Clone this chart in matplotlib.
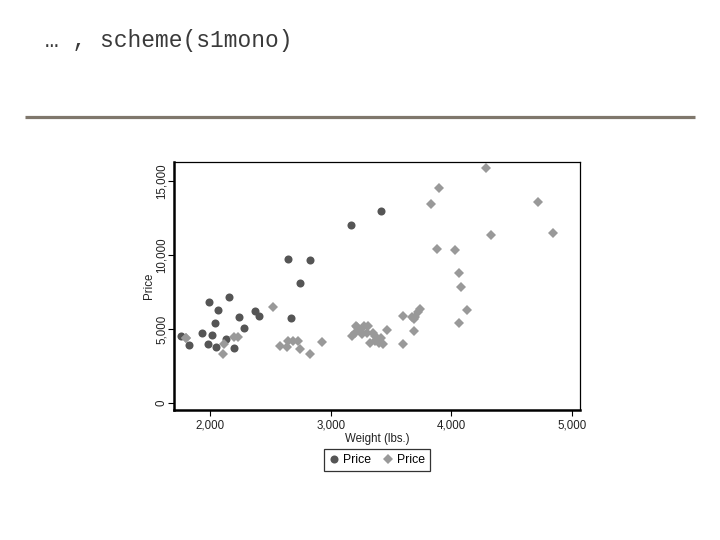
import matplotlib
matplotlib.use("Agg")
import matplotlib.pyplot as plt
from matplotlib.lines import Line2D
from matplotlib.ticker import FuncFormatter

# Foreign cars (dark circles)
foreign_weight = [2830, 2070, 2650, 2370, 2020, 2280, 2750, 2130, 2240, 1760, 1980,
                  3420, 1830, 2050, 2410, 2200, 2670, 2160, 2040, 1930, 1990, 3170]
foreign_price = [9690, 6295, 9735, 6229, 4589, 5079, 8129, 4296, 5799, 4499, 3995,
                 12990, 3895, 3798, 5899, 3748, 5719, 7140, 5397, 4697, 6850, 11995]

# Domestic cars (light diamonds)
domestic_weight = [2930, 3350, 2640, 3250, 4080, 3670, 2230, 3280, 3880, 3400, 4330,
                   3900, 4290, 2110, 3690, 3180, 3220, 2750, 3430, 2120, 3600, 3600,
                   3740, 1800, 2650, 4840, 4720, 3830, 2580, 4060, 3720, 3370, 4130,
                   2830, 4060, 3310, 3300, 3690, 3370, 2730, 4030, 3260, 1800, 2200,
                   2520, 3330, 3700, 3470, 3210, 3200, 3420, 2690]
domestic_price = [4099, 4749, 3799, 4816, 7827, 5788, 4453, 5189, 10372, 4082, 11385,
                  14500, 15906, 3299, 5705, 4504, 5104, 3667, 3955, 3984, 4010, 5886,
                  6342, 4389, 4187, 11497, 13594, 13466, 3829, 5379, 6165, 4516, 6303,
                  3291, 8814, 5172, 4733, 4890, 4181, 4195, 10371, 4647, 4425, 4482,
                  6486, 4060, 5798, 4934, 5222, 4723, 4424, 4172]

x_ticks = [2000, 3000, 4000, 5000]
y_ticks = [0, 5000, 10000, 15000]
legend_labels = ["Price", "Price"]
title_text = "\u2026 , scheme(s1mono)"

W, H = 720, 540
fig = plt.figure(figsize=(W / 100, H / 100), dpi=100)
fig.patch.set_facecolor("white")

# Title text and rule
fig.text(45 / W, 1 - 47 / H, title_text, family=["Liberation Mono", "DejaVu Sans Mono"],
         fontsize=16.5, color="#3a3a3a", ha="left", va="baseline")
fig.add_artist(Line2D([25 / W, 695 / W], [1 - 117 / H, 1 - 117 / H],
                      transform=fig.transFigure, color="#7f776c", linewidth=2.3,
                      solid_capstyle="butt"))

ax = fig.add_axes([174 / W, 1 - 410 / H, 406 / W, 248 / H])
ax.plot(foreign_weight, foreign_price, linestyle="none", marker="o", markersize=5.8,
        color="#555555", markeredgewidth=0)
ax.plot(domestic_weight, domestic_price, linestyle="none", marker="D", markersize=5.0,
        color="#999999", markeredgewidth=0)

ax.set_xlim(1702, 5066)
ax.set_ylim(-473, 16284)
ax.set_xticks(x_ticks)
ax.set_yticks(y_ticks)
fmt = FuncFormatter(lambda v, p: f"{int(v):,}")
ax.xaxis.set_major_formatter(fmt)
ax.yaxis.set_major_formatter(fmt)

font = ["Liberation Sans", "DejaVu Sans"]
for lab in ax.get_xticklabels():
    lab.set_family(font)
for lab in ax.get_yticklabels():
    lab.set_family(font)
    lab.set_rotation(90)
    lab.set_va("center")
ax.tick_params(axis="both", direction="out", length=4, width=0.8, labelsize=8.3,
               colors="black", labelcolor="#222222")
ax.tick_params(axis="x", pad=3)
ax.tick_params(axis="y", pad=0.5)

for side in ["left", "bottom"]:
    ax.spines[side].set_linewidth(1.8)
for side in ["top", "right"]:
    ax.spines[side].set_linewidth(0.9)

ax.set_xlabel("Weight (lbs.)", family=font, fontsize=8.3, color="#222222", labelpad=1)
ax.set_ylabel("Price", family=font, fontsize=8.3, color="#222222", labelpad=0.5)

handles = [Line2D([], [], linestyle="none", marker="o", markersize=5.8, color="#555555",
                  markeredgewidth=0),
           Line2D([], [], linestyle="none", marker="D", markersize=5.0, color="#999999",
                  markeredgewidth=0)]
leg = fig.legend(handles, legend_labels, loc="center", bbox_to_anchor=(377 / W, 1 - 460 / H),
                 ncol=2, frameon=True, fancybox=False, prop={"family": font, "size": 8.8},
                 handlelength=0.8, handletextpad=0.35, columnspacing=1.0, borderpad=0.4,
                 borderaxespad=0)
leg.get_frame().set_edgecolor("black")
leg.get_frame().set_linewidth(0.9)

fig.savefig("out.png", dpi=100, facecolor="white")
